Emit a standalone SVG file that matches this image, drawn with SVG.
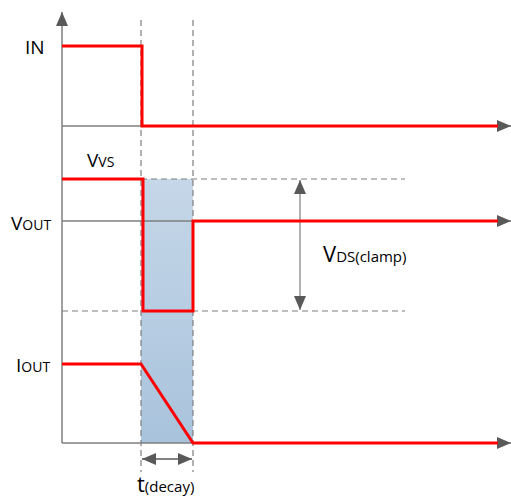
<svg xmlns="http://www.w3.org/2000/svg" width="511" height="498" viewBox="0 0 511 498">
<style>
.ax{stroke:#7f7f7f;stroke-width:1.5;fill:none}
.dash{stroke:#7f7f7f;stroke-width:1.2;stroke-dasharray:6,4;fill:none}
.sig{stroke:#ff0000;stroke-width:3;fill:none;stroke-linejoin:miter}
.lbl{font-family:"Open Sans","Liberation Sans",sans-serif;fill:#000}
.hd{fill:#595959}
</style>
<defs>
<linearGradient id="sh" x1="0" y1="0" x2="0" y2="1">
<stop offset="0" stop-color="#c5d7e8"/>
<stop offset="1" stop-color="#a9c3dc"/>
</linearGradient>
<marker id="ar" viewBox="0 0 14 12" refX="14" refY="6" markerWidth="14" markerHeight="12" markerUnits="userSpaceOnUse" orient="auto-start-reverse">
<path d="M0,0 L14,6 L0,12 Z" class="hd"/>
</marker>
</defs>
<g id="shade">
<rect x="141" y="179" width="52" height="264" fill="url(#sh)"/>
</g>
<g id="connectors">
<line class="ax" x1="62" y1="443" x2="62" y2="12" marker-end="url(#ar)"/>
<line class="ax" x1="62" y1="126" x2="511" y2="126" marker-end="url(#ar)"/>
<line class="ax" x1="62" y1="221" x2="511" y2="221" marker-end="url(#ar)"/>
<line class="ax" x1="62" y1="443" x2="511" y2="443" marker-end="url(#ar)"/>
<line class="dash" x1="141" y1="20" x2="141" y2="472"/>
<line class="dash" x1="193" y1="20" x2="193" y2="472"/>
<line class="dash" x1="141" y1="179" x2="405" y2="179"/>
<line class="dash" x1="62" y1="311" x2="405" y2="311"/>
<line stroke="#999" stroke-width="1.5" x1="300" y1="180" x2="300" y2="310" marker-start="url(#ar)" marker-end="url(#ar)"/>
<line stroke="#595959" stroke-width="1.5" x1="142" y1="459" x2="192" y2="459" marker-start="url(#ar)" marker-end="url(#ar)"/>
</g>
<g id="signals">
<polyline class="sig" points="62,46 142,46 142,126 498,126"/>
<polyline class="sig" points="62,179 143,179 143,311 193,311 193,221 498,221"/>
<polyline class="sig" points="62,364 141,364 193,443 498,443"/>
</g>
<g id="labels">
<text class="lbl" x="25" y="54" font-size="19">IN</text>
<text class="lbl" x="87" y="167" font-size="19">V<tspan font-size="14">VS</tspan></text>
<text class="lbl" x="11" y="230" font-size="19">V<tspan font-size="14">OUT</tspan></text>
<text class="lbl" x="16" y="372" font-size="19">I<tspan font-size="14">OUT</tspan></text>
<text class="lbl" x="323" y="262" font-size="22">V<tspan font-size="15">DS(clamp)</tspan></text>
<text class="lbl" x="137" y="492" font-size="22">t<tspan font-size="15">(decay)</tspan></text>
</g>
</svg>
